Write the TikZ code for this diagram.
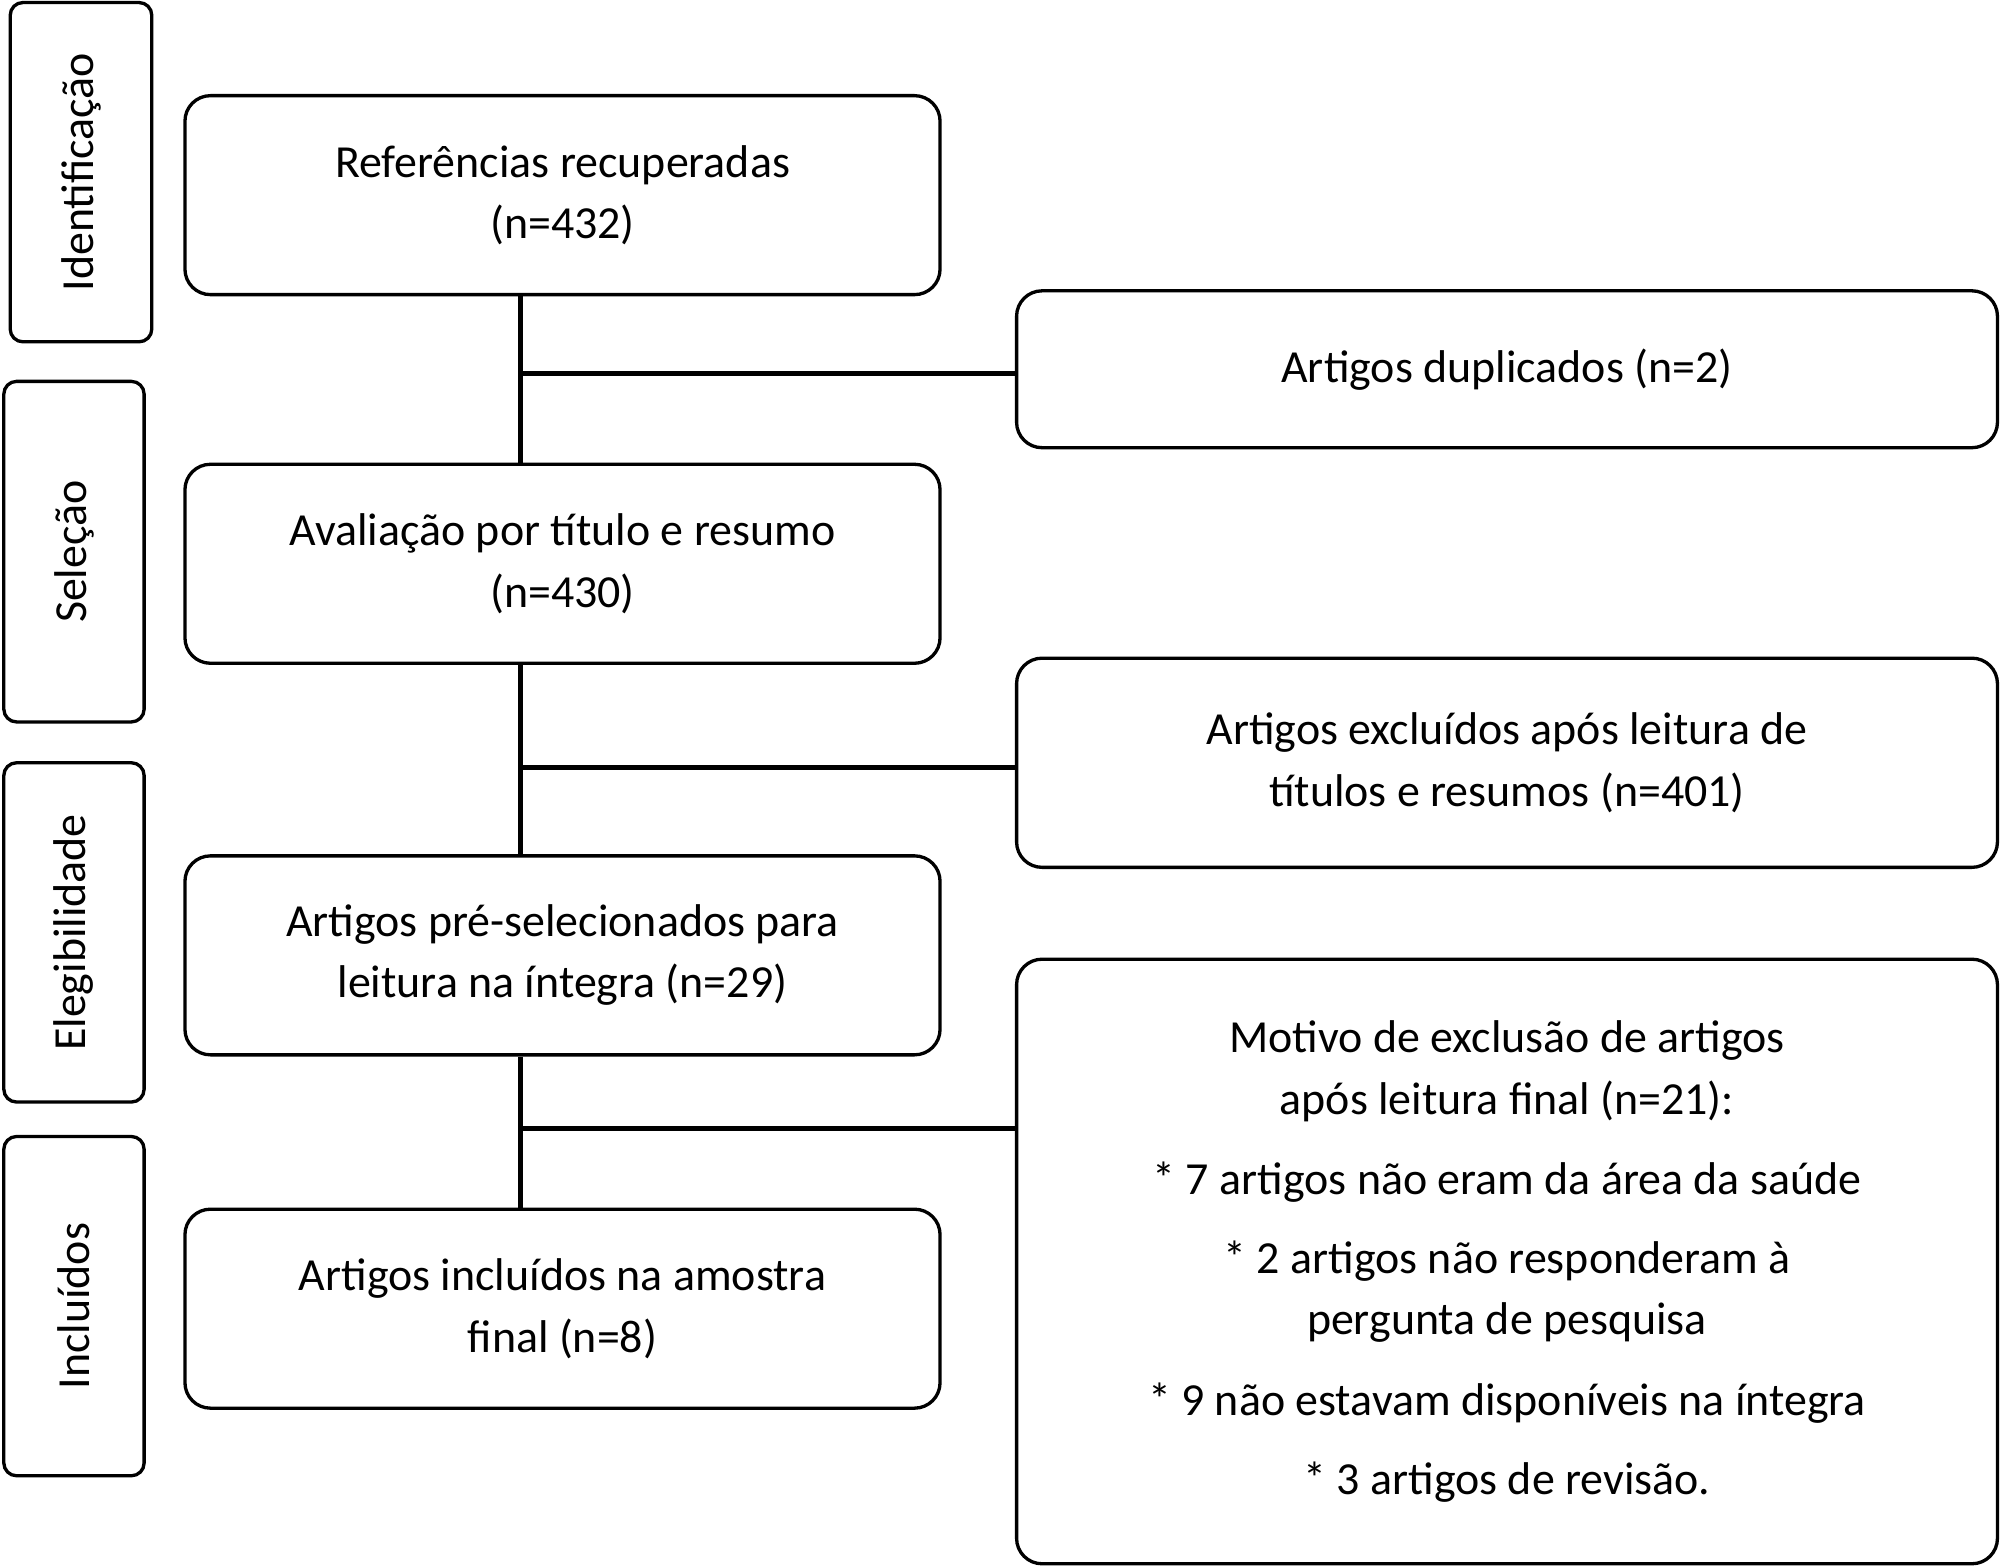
\documentclass[tikz,border=0pt]{standalone}
\usepackage{fontspec}
\setmainfont{Carlito}
\begin{document}
\begin{tikzpicture}[x=0.5pt,y=-0.5pt,
  box/.style={draw,line width=1.3pt,rounded corners=10pt,inner sep=0pt,align=center,font=\fontsize{18}{24}\selectfont},
  lbl/.style={draw,line width=1.3pt,rounded corners=5pt,inner sep=0pt,font=\fontsize{18}{24}\selectfont},
  conn/.style={line width=2pt}]
\useasboundingbox (0,0) rectangle (1568,1229);
\fill[white] (0,0) rectangle (1568,1229);
% phase labels
\node[lbl,minimum width=111pt*0.5,minimum height=266pt*0.5] (s1) at (63.5,135) {};
\node[rotate=90,font=\fontsize{18}{24}\selectfont] (t1) at (s1) {Identificação};
\node[lbl,minimum width=110pt*0.5,minimum height=267pt*0.5] (s2) at (58,432.5) {};
\node[rotate=90,font=\fontsize{18}{24}\selectfont] (t2) at (s2) {Seleção};
\node[lbl,minimum width=110pt*0.5,minimum height=266pt*0.5] (s3) at (58,731) {};
\node[rotate=90,font=\fontsize{18}{24}\selectfont] (t3) at (s3) {Elegibilidade};
\node[lbl,minimum width=110pt*0.5,minimum height=266pt*0.5] (s4) at (58,1024) {};
\node[rotate=90,font=\fontsize{18}{24}\selectfont] (t4) at (s4) {Incluídos};
% main boxes
\node[box,minimum width=592pt*0.5,minimum height=156pt*0.5] (b1) at (441,153) {Referências recuperadas\\(n=432)};
\node[box,minimum width=592pt*0.5,minimum height=156pt*0.5] (b2) at (441,442) {Avaliação por título e resumo\\(n=430)};
\node[box,minimum width=592pt*0.5,minimum height=156pt*0.5] (b3) at (441,749) {Artigos pré-selecionados para\\leitura na íntegra (n=29)};
\node[box,minimum width=592pt*0.5,minimum height=156pt*0.5] (b4) at (441,1026) {Artigos incluídos na amostra\\final (n=8)};
% right boxes
\node[box,minimum width=769pt*0.5,minimum height=123pt*0.5] (r1) at (1181.5,289.5) {Artigos duplicados (n=2)};
\node[box,minimum width=769pt*0.5,minimum height=164pt*0.5] (r2) at (1181.5,598) {Artigos excluídos após leitura de\\títulos e resumos (n=401)};
\node[box,minimum width=769pt*0.5,minimum height=474pt*0.5] (r3) at (1181.5,989) {Motivo de exclusão de artigos\\após leitura final (n=21):\\[7.5pt]
* 7 artigos não eram da área da saúde\\[7pt]
* 2 artigos não responderam à\\pergunta de pesquisa\\[7.5pt]
* 9 não estavam disponíveis na íntegra\\[7pt]
* 3 artigos de revisão.};
% connectors
\draw[conn] (b1.south -| 408,0) -- (b2.north -| 408,0);
\draw[conn] (b2.south -| 408,0) -- (b3.north -| 408,0);
\draw[conn] (b3.south -| 408,0) -- (b4.north -| 408,0);
\coordinate (j1) at (408,293);
\coordinate (j2) at (408,602);
\coordinate (j3) at (408,885);
\draw[conn] (j1) -- (j1 -| r1.west);
\draw[conn] (j2) -- (j2 -| r2.west);
\draw[conn] (j3) -- (j3 -| r3.west);
\end{tikzpicture}
\end{document}
